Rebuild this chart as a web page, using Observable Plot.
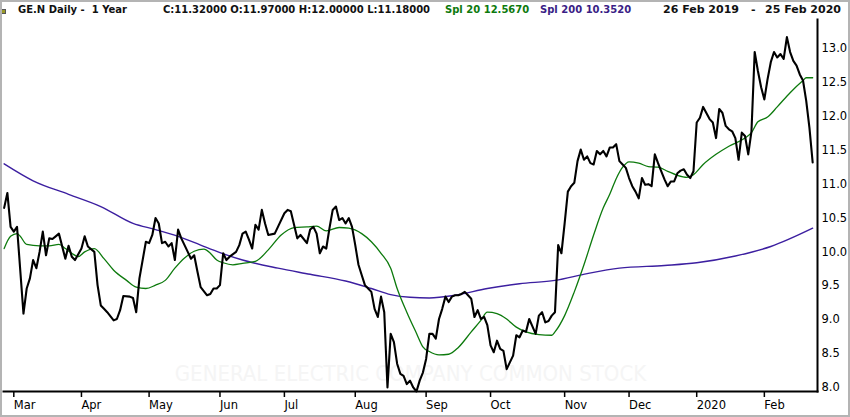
<!DOCTYPE html>
<html>
<head>
<meta charset="utf-8">
<script src="https://cdn.jsdelivr.net/npm/d3@7"></script>
<script src="https://cdn.jsdelivr.net/npm/@observablehq/plot@0.6"></script>
<style>
  html, body { margin: 0; padding: 0; background: white; }
  #wrap { position: relative; width: 850px; height: 417px; overflow: hidden; background: white; }
  #head { position: relative; height: 18px; font-family: "DejaVu Sans", sans-serif; font-weight: bold; font-size: 10px; }
  #head span { position: absolute; top: 5px; white-space: pre; line-height: 1; }
  #icon { position: absolute; left: 1px; top: 9px; width: 3px; height: 3px; background: #9a9a2a; border: 1px solid #555; }
  #border { position: absolute; left: 0; top: 0; width: 850px; height: 417px; box-sizing: border-box; border: 2px solid #b4b4b4; pointer-events: none; }
</style>
</head>
<body>
<div id="wrap">
  <div id="head">
    <div id="icon"></div>
    <span style="left:18px;color:#111">GE.N Daily -  1 Year</span>
    <span style="left:163px;color:#111">C:11.32000 O:11.97000 H:12.00000 L:11.18000</span>
    <span style="left:445px;color:#0d7a0d">Spl 20 12.5670</span>
    <span style="left:540px;color:#3a1e86">Spl 200 10.3520</span>
    <span style="left:663px;color:#111;font-size:11px;top:4px">26 Feb 2019</span>
    <span style="left:751px;color:#111;font-size:11px;top:4px">-</span>
    <span style="left:765px;color:#111;font-size:11px;top:4px">25 Feb 2020</span>
  </div>
  <div id="chart"></div>
  <div id="border"></div>
</div>
<script>
// Trading-day index (0 = 26 Feb 2019, 251 = 25 Feb 2020)
const closeIdx = [0,1,2,3,4,6,7,8,9,10,11,12,13,14,15,16,17,19,20,21,22,24,25,26,28,29,30,31,32,34,35,36,37,39,40,41,42,44,45,46,47,48,49,50,51,52,53,54,55,57,58,59,60,61,63,64,65,66,67,68,69,70,72,73,74,75,76,77,78,79,80,81,82,84,85,87,88,89,90,91,92,94,95,96,97,98,99,100,101,102,103,104,105,106,107,108,109,110,111,112,113,114,115,116,117,118,119,120,121,122,123,124,125,126,127,128,129,130,131,132,133,134,135,136,137,138,139,140,141,142,143,144,145,146,147,148,149,150,151,152,153,154,155,156,157,158,159,160,161,162,163,164,165,166,167,168,169,170,171,172,173,174,175,176,177,178,179,180,181,182,183,184,185,186,187,188,189,190,191,192,193,194,195,196,197,198,199,200,201,202,203,204,205,206,207,208,209,210,211,212,213,214,215,216,217,218,219,220,221,222,223,224,225,226,227,228,229,230,231,232,233,234,235,236,237,238,239,240,241,242,243,244,245,246,247,248,249,250,251];
const closeVal = [10.65,10.87,10.37,10.30,10.37,9.09,9.46,9.61,9.88,9.76,10.00,10.30,9.95,10.20,10.19,10.23,10.27,9.90,10.09,9.93,9.88,10.05,10.23,10.08,10.00,9.51,9.21,9.16,9.11,8.99,9.01,9.14,9.35,9.34,9.32,9.11,9.61,10.15,10.13,10.25,10.50,10.42,10.13,10.15,10.08,10.13,9.88,10.33,10.20,10.00,9.90,9.95,9.71,9.48,9.36,9.38,9.46,9.46,9.51,9.98,9.88,9.93,10.00,10.10,10.27,10.30,10.18,10.05,10.40,10.33,10.62,10.42,10.25,10.27,10.37,10.57,10.62,10.60,10.40,10.20,10.25,10.13,10.33,10.37,10.27,9.98,10.08,10.05,10.35,10.62,10.67,10.47,10.50,10.42,10.50,10.37,10.10,9.81,9.66,9.51,9.46,9.41,9.16,9.04,9.34,9.11,8.00,8.79,8.67,8.35,8.20,8.17,8.05,8.10,8.00,7.94,8.10,8.22,8.42,8.79,8.79,8.72,9.01,9.16,9.34,9.26,9.34,9.36,9.36,9.38,9.41,9.36,9.31,9.04,9.14,9.01,9.04,8.92,8.62,8.52,8.69,8.57,8.54,8.27,8.37,8.47,8.77,8.74,8.84,8.82,9.01,8.90,8.79,9.06,9.11,8.96,8.98,9.06,9.11,10.10,9.98,10.42,10.89,10.97,11.02,11.34,11.51,11.36,11.41,11.31,11.29,11.49,11.44,11.49,11.41,11.54,11.54,11.59,11.34,11.29,11.24,11.09,10.97,10.89,10.79,11.09,10.99,11.00,10.97,11.44,11.31,11.19,11.07,10.97,11.04,11.04,11.16,11.20,11.22,11.14,11.09,11.19,11.91,11.98,12.14,12.05,11.96,11.91,11.68,12.11,12.05,11.86,11.81,11.78,11.68,11.36,11.76,11.71,11.44,11.78,12.95,12.67,12.43,12.25,12.55,12.80,12.95,12.87,12.92,12.85,13.17,12.95,12.82,12.75,12.62,12.53,12.23,11.83,11.32];

const spl20Idx = [0,2,4,5,7,11,14,17,19,21,23,25,28,31,34,38,41,44,47,50,53,56,59,62,64,66,68,71,74,78,82,86,90,94,97,100,104,107,111,114,117,120,122,125,128,130,132,135,138,141,145,148,150,153,156,159,162,166,170,171,174,177,180,183,186,188,190,192,194,197,200,203,206,209,212,214,217,221,225,230,232,234,237,240,244,248,249,251];
const spl20Val = [10.05,10.23,10.27,10.23,10.11,10.09,10.09,10.11,10.05,9.98,9.93,10.00,10.05,9.90,9.73,9.58,9.48,9.46,9.51,9.58,9.76,9.91,10.01,10.04,9.98,9.88,9.84,9.81,9.83,9.86,10.03,10.25,10.36,10.37,10.38,10.31,10.36,10.35,10.27,10.15,9.98,9.76,9.46,9.11,8.80,8.60,8.53,8.48,8.49,8.59,8.82,8.99,9.11,9.09,9.01,8.89,8.82,8.78,8.77,8.82,9.06,9.41,9.81,10.25,10.65,10.85,11.08,11.25,11.33,11.31,11.26,11.25,11.19,11.13,11.10,11.14,11.29,11.44,11.56,11.68,11.76,11.92,11.99,12.14,12.35,12.53,12.57,12.57];

const spl200Idx = [0,9,20,30,40,47,54,61,67,74,85,95,106,114,120,126,132,140,150,160,171,181,191,205,215,227,238,251];
const spl200Val = [11.30,11.05,10.85,10.67,10.42,10.33,10.23,10.10,9.99,9.88,9.76,9.67,9.57,9.46,9.37,9.33,9.32,9.36,9.46,9.53,9.58,9.68,9.76,9.80,9.84,9.94,10.08,10.35];

const monthIdx = [3,24,45,67,87,109,131,151,174,194,215,236];
const monthLabels = ["Mar","Apr","May","Jun","Jul","Aug","Sep","Oct","Nov","Dec","2020","Feb"];
const yTicks = [8.0,8.5,9.0,9.5,10.0,10.5,11.0,11.5,12.0,12.5,13.0];
const xDomain = [-0.2, 252.5];
const yDomain = [7.94, 13.43];
const watermark = "GENERAL ELECTRIC COMPANY COMMON STOCK";

const close = closeIdx.map((d, i) => ({i: d, v: closeVal[i]}));
const spl20 = spl20Idx.map((d, i) => ({i: d, v: spl20Val[i]}));
const spl200 = spl200Idx.map((d, i) => ({i: d, v: spl200Val[i]}));

const chart = Plot.plot({
  width: 850,
  height: 399,
  marginTop: 1,
  marginBottom: 26,
  marginLeft: 3,
  marginRight: 33,
  x: {domain: xDomain, label: null},
  y: {domain: yDomain, label: null},
  style: {fontFamily: "DejaVu Sans, sans-serif", fontSize: "11.5px", background: "white", color: "black"},
  marks: [
    Plot.text([watermark], {frameAnchor: "bottom", dy: -18, lineAnchor: "middle", fill: "#f5f5f5",
      fontSize: 22, fontFamily: "Liberation Sans Narrow, DejaVu Sans Condensed, sans-serif"}),
    Plot.axisY({anchor: "right", ticks: yTicks, tickFormat: d3.format(".1f"), tickSize: 0, tickPadding: 4, textAnchor: "start", fill: "black", label: null}),
    Plot.axisX({ticks: monthIdx, tickFormat: d => monthLabels[monthIdx.indexOf(d)], tickSize: 6, tickPadding: 3, textAnchor: "start", strokeWidth: 1.5, fill: "black", stroke: "black", label: null}),
    Plot.frame({anchor: "right", stroke: "black", strokeWidth: 2}),
    Plot.frame({anchor: "bottom", stroke: "black", strokeWidth: 2}),
    Plot.line(spl200, {x: "i", y: "v", stroke: "#3c1fa0", strokeWidth: 1.4, curve: "monotone-x"}),
    Plot.line(spl20, {x: "i", y: "v", stroke: "#0d7a0d", strokeWidth: 1.3, curve: "monotone-x"}),
    Plot.line(close, {x: "i", y: "v", stroke: "black", strokeWidth: 2.1})
  ]
});
document.getElementById("chart").appendChild(chart);
</script>
</body>
</html>
